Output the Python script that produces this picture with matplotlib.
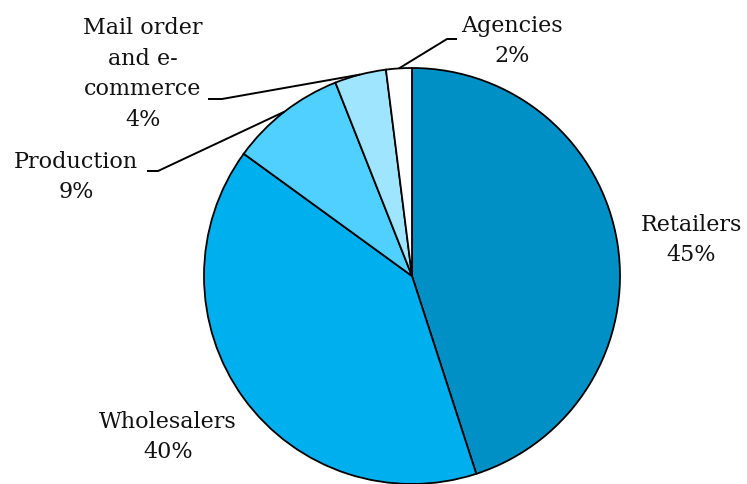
import numpy as np
import matplotlib
matplotlib.use("Agg")
import matplotlib.pyplot as plt

plt.rcParams['font.family'] = ['DejaVu Serif']

# sales channel shares
channels = ['Retailers', 'Wholesalers', 'Production', 'Mail order\nand e-\ncommerce', 'Agencies']
shares = [45, 40, 9, 4, 2]
colors = ['#0190C5', '#00AFEE', '#4FD0FE', '#A0E5FE', '#FFFFFF']

# label anchors (pixels) and optional leader elbow / end of horizontal stub
label_pos = [(691, 240), (168, 437), (76, 177), (143, 74), (512, 41)]
leaders = [None, None, [(158, 171), (147, 171)], [(222, 99), (208, 99)], [(447, 39), (457, 39)]]

W, H = 747, 484
cx, cy, r = 412, 276, 208

fig = plt.figure(figsize=(W / 100, H / 100), dpi=100)
ax = fig.add_axes([0, 0, 1, 1])

wedges, _ = ax.pie(shares, colors=colors, startangle=90, counterclock=False,
                   center=(cx, H - cy), radius=r,
                   wedgeprops=dict(edgecolor='black', linewidth=1.3))

# pie() resets the limits, so set them afterwards
ax.set_xlim(0, W)
ax.set_ylim(0, H)
ax.set_aspect('equal')
ax.axis('off')

for w, name, val, (lx, ly), lead in zip(wedges, channels, shares, label_pos, leaders):
    ax.text(lx, H - ly, f'{name}\n{val}%', ha='center', va='center',
            fontsize=16, linespacing=1.5, color='#111111')
    if lead:
        mid = np.deg2rad((w.theta1 + w.theta2) / 2)
        ex, ey = cx + r * np.cos(mid), (H - cy) + r * np.sin(mid)
        xs = [ex] + [p[0] for p in lead]
        ys = [ey] + [H - p[1] for p in lead]
        ax.plot(xs, ys, color='black', linewidth=1.4, solid_capstyle='butt')

fig.savefig('out.png', dpi=100)
